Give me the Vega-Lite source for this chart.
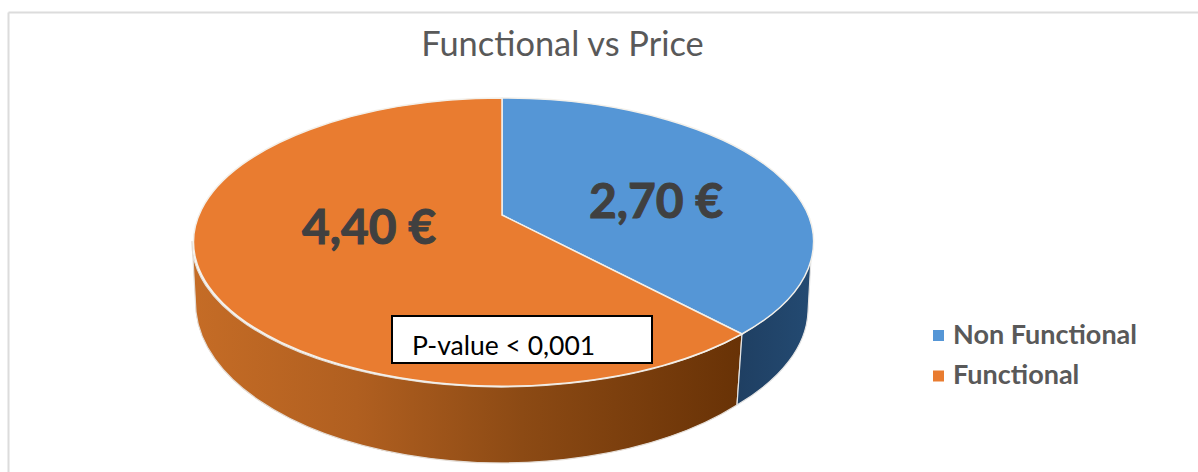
{
"$schema":"https://vega.github.io/schema/vega-lite/v6.json",
"width":1190,"height":460,
"padding":{"left":8,"top":12,"right":0,"bottom":0},
"autosize":{"type":"none"},
"background":"#ffffff",
"config":{"view":{"stroke":null},"axis":{"grid":false}},
"datasets":{"slices":[{"category":"Non Functional","price":2.70,"label":"2,70 €"},{"category":"Functional","price":4.40,"label":"4,40 €"}],"notes":[{"note":"P-value < 0,001"}],"heading":[{"title":"Functional vs Price"}]},
"data":{"name":"slices"},
"layer":[
{"transform":[{"filter":"datum.category==='Functional'"}],
"mark":{"type":"point","filled":true,"opacity":1,"size":4,"shape":"M240 119 A310 144 0 0 1 -310 26 L-306 97 A306 160 0 0 0 235 190 Z","stroke":"#e4ddd6","strokeWidth":1.2,"fill":{"gradient":"linear","x1":0,"y1":0,"x2":1,"y2":0,"stops":[{"offset":0,"color":"#c56c26"},{"offset":0.3,"color":"#b05f20"},{"offset":0.6,"color":"#8c4a14"},{"offset":1,"color":"#683206"}]}},
"encoding":{
"x":{"datum":502,"type":"quantitative","scale":{"domain":[8,1198]},"axis":{"orient":"top","title":null,"ticks":false,"labels":false,"domainColor":"#dcdcdc","domainWidth":2}},
"y":{"datum":215,"type":"quantitative","scale":{"domain":[472,12]},"axis":{"orient":"left","title":null,"ticks":false,"labels":false,"domainColor":"#dcdcdc","domainWidth":2}}}},
{"transform":[{"filter":"datum.category==='Non Functional'"}],
"mark":{"type":"point","filled":true,"opacity":1,"size":4,"shape":"M240 119 A310 144 0 0 0 310 26 L306 97 A306 150 0 0 1 235 190 Z","stroke":"#e4e4e4","strokeWidth":1.2,"fill":{"gradient":"linear","x1":0,"y1":0,"x2":1,"y2":0,"stops":[{"offset":0,"color":"#1f3f62"},{"offset":1,"color":"#234a72"}]}},
"encoding":{"x":{"datum":502,"type":"quantitative","scale":{"domain":[8,1198]}},"y":{"datum":215,"type":"quantitative","scale":{"domain":[472,12]}}}},
{"transform":[{"filter":"datum.category==='Non Functional'"}],
"mark":{"type":"point","filled":true,"opacity":1,"size":4,"stroke":"#f3f0ea","strokeWidth":1.5,"shape":"M0 0 L0 -117 A310 144 0 0 1 240 119 Z"},
"encoding":{"x":{"datum":502,"type":"quantitative","scale":{"domain":[8,1198]}},"y":{"datum":215,"type":"quantitative","scale":{"domain":[472,12]}},
"color":{"field":"category","type":"nominal","scale":{"domain":["Non Functional","Functional"],"range":["#5596d6","#e97c30"]},"legend":{"title":null,"orient":"none","legendX":917,"legendY":310,"symbolType":"square","symbolSize":121,"symbolStrokeWidth":0,"labelFont":"Lato","labelFontSize":27,"labelFontWeight":"bold","labelColor":"#595959","labelOffset":1,"rowPadding":12.5,"labelLimit":300}}}},
{"transform":[{"filter":"datum.category==='Functional'"}],
"mark":{"type":"point","filled":true,"opacity":1,"size":4,"stroke":"#f3f0ea","strokeWidth":1.5,"shape":"M0 0 L240 119 A310 144 0 1 1 0 -117 Z"},
"encoding":{"x":{"datum":502,"type":"quantitative","scale":{"domain":[8,1198]}},"y":{"datum":215,"type":"quantitative","scale":{"domain":[472,12]}},
"color":{"field":"category","type":"nominal","scale":{"domain":["Non Functional","Functional"],"range":["#5596d6","#e97c30"]}}}},
{"transform":[{"filter":"datum.category==='Non Functional'"}],"mark":{"type":"text","font":"Lato","fontSize":48,"fontWeight":"bold","color":"#404040","stroke":"#404040","strokeWidth":1,"align":"center","baseline":"alphabetic"},
"encoding":{"x":{"datum":656,"type":"quantitative","scale":{"domain":[8,1198]}},"y":{"datum":218,"type":"quantitative","scale":{"domain":[472,12]}},"text":{"field":"label"}}},
{"transform":[{"filter":"datum.category==='Functional'"}],"mark":{"type":"text","font":"Lato","fontSize":48,"fontWeight":"bold","color":"#404040","stroke":"#404040","strokeWidth":1,"align":"center","baseline":"alphabetic"},
"encoding":{"x":{"datum":369,"type":"quantitative","scale":{"domain":[8,1198]}},"y":{"datum":244,"type":"quantitative","scale":{"domain":[472,12]}},"text":{"field":"label"}}},
{"data":{"name":"notes"},"mark":{"type":"rect","fill":"#ffffff","stroke":"#000000","strokeWidth":2},
"encoding":{"x":{"datum":392,"type":"quantitative","scale":{"domain":[8,1198]}},"x2":{"datum":652},"y":{"datum":316,"type":"quantitative","scale":{"domain":[472,12]}},"y2":{"datum":363}}},
{"data":{"name":"notes"},"mark":{"type":"text","font":"Lato","fontSize":26.5,"color":"#000000","align":"left","baseline":"alphabetic"},
"encoding":{"x":{"datum":412,"type":"quantitative","scale":{"domain":[8,1198]}},"y":{"datum":355,"type":"quantitative","scale":{"domain":[472,12]}},"text":{"field":"note"}}},
{"data":{"name":"heading"},"mark":{"type":"text","font":"Lato","fontSize":34.4,"color":"#595959","align":"center","baseline":"alphabetic"},
"encoding":{"x":{"datum":562.5,"type":"quantitative","scale":{"domain":[8,1198]}},"y":{"datum":56,"type":"quantitative","scale":{"domain":[472,12]}},"text":{"field":"title"}}}
]
}
